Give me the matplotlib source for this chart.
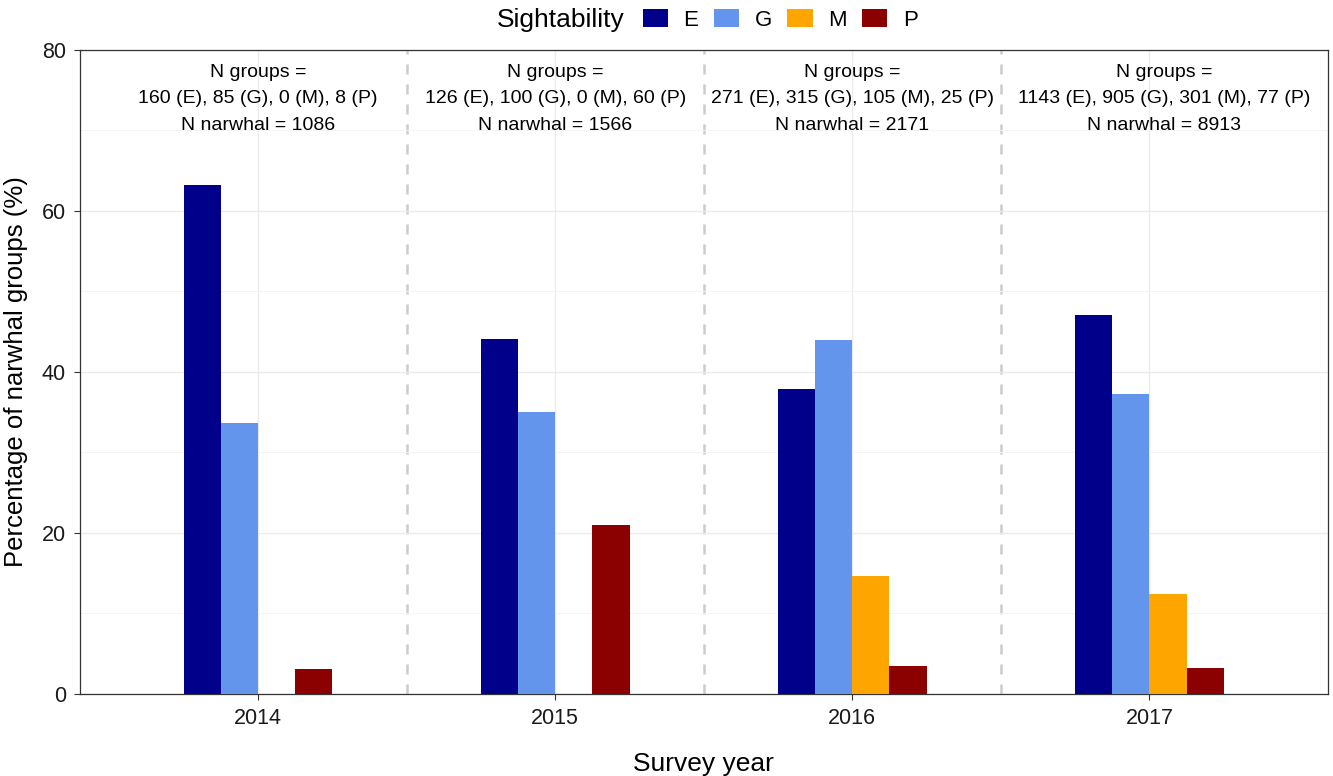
import numpy as np
import matplotlib.pyplot as plt

plt.rcParams['font.family'] = ['Liberation Sans', 'DejaVu Sans']

years = ['2014', '2015', '2016', '2017']
classes = ['E', 'G', 'M', 'P']
colors = ['#00008B', '#6495ED', '#FFA500', '#8B0000']

# group counts per sightability class, one list per class (2014..2017)
n_E = [160, 126, 271, 1143]
n_G = [85, 100, 315, 905]
n_M = [0, 0, 105, 301]
n_P = [8, 60, 25, 77]
n_narwhal = [1086, 1566, 2171, 8913]

counts = np.array([n_E, n_G, n_M, n_P], dtype=float)
pct = counts / counts.sum(axis=0) * 100

fig = plt.figure(figsize=(13.33, 7.76), dpi=100)
ax = fig.add_axes([0.060, 0.1057, 0.936, 0.83])

x = np.arange(len(years))
w = 0.125
for i, c in enumerate(classes):
    ax.bar(x + (i - 1.5) * w, pct[i], width=w, color=colors[i], label=c, zorder=3)

ax.set_xlim(-0.6, len(years) - 0.4)
ax.set_ylim(0, 80)
ax.set_yticks([0, 20, 40, 60, 80])
ax.set_yticks([10, 30, 50, 70], minor=True)
ax.set_xticks(x)
ax.set_xticklabels(years)

ax.grid(True, which='major', color='#EBEBEB', lw=1.0, zorder=0)
ax.grid(True, which='minor', axis='y', color='#F4F4F4', lw=0.7, zorder=0)
for b in x[:-1] + 0.5:
    ax.axvline(b, color='#CCCCCC', lw=1.8, ls=(0, (4, 4)), zorder=1)

for s in ax.spines.values():
    s.set_color('#333333')
    s.set_linewidth(0.9)
ax.tick_params(axis='both', which='major', length=4, color='#333333',
               labelsize=15.5, labelcolor='#1A1A1A', pad=6)
ax.tick_params(axis='y', which='minor', length=0)

# last label nudged right so it stays inside the panel
nudge = [0, 0, 0, 0.05]
for j in range(len(years)):
    txt = ('N groups =\n'
           f'{n_E[j]} (E), {n_G[j]} (G), {n_M[j]} (M), {n_P[j]} (P)\n'
           f'N narwhal = {n_narwhal[j]}')
    ax.text(x[j] + nudge[j], 78.3, txt, ha='center', va='top', fontsize=14,
            linespacing=1.75, color='black', zorder=4)

ax.set_xlabel('Survey year', fontsize=19, labelpad=17)
ax.set_ylabel('Percentage of narwhal groups (%)', fontsize=18.5, labelpad=10)

fig.text(0.373, 0.974, 'Sightability', fontsize=19, ha='left', va='center')
fig.legend(loc='center left', bbox_to_anchor=(0.4756, 0.974), ncol=4,
           frameon=False, fontsize=16, handlelength=1.13, handleheight=0.85,
           handletextpad=0.7, columnspacing=0.7, borderaxespad=0)

fig.savefig('out.png', dpi=100)
